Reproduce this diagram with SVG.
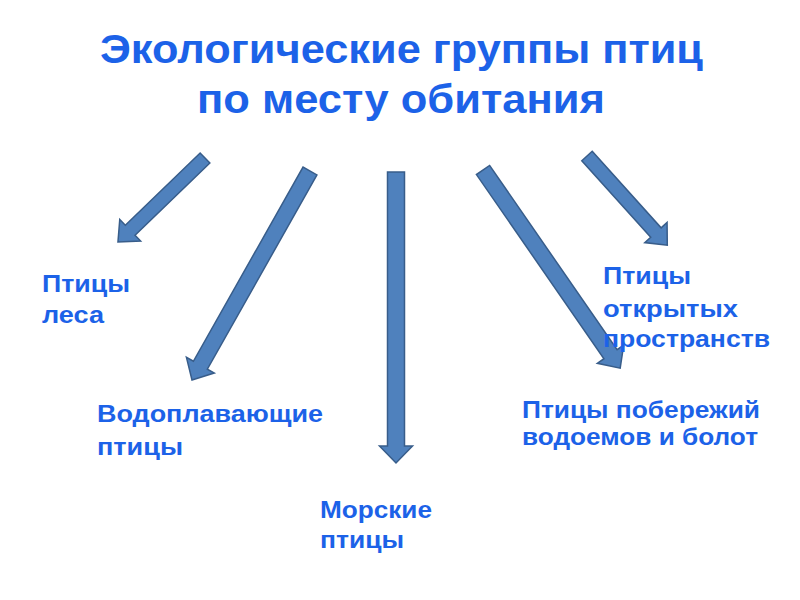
<svg xmlns="http://www.w3.org/2000/svg" width="800" height="600" viewBox="0 0 800 600">
<style>
.t{font-family:"Liberation Sans",Arial,sans-serif;font-weight:bold;fill:#1c62e8}
.title{font-size:40px}
.lbl{font-size:23.5px}
.arr{fill:#4f81bd;stroke:#385d8a;stroke-width:1.5;stroke-linejoin:miter}
</style>
<rect width="800" height="600" fill="#ffffff"/>
<g id="connectors">
<polygon class="arr" transform="translate(205,158) rotate(136)" points="0,-7 104,-7 104,-15 121,0 104,15 104,7 0,7"/>
<polygon class="arr" transform="translate(310,171) rotate(119.45)" points="0,-8 223,-8 223,-16 240,0 223,16 223,8 0,8"/>
<polygon class="arr" transform="translate(396,172) rotate(90)" points="0,-8.5 274,-8.5 274,-16.5 291,0 274,16.5 274,8.5 0,8.5"/>
<polygon class="arr" transform="translate(483,170) rotate(55.3)" points="0,-8 224,-8 224,-16 241,0 224,16 224,8 0,8"/>
<polygon class="arr" transform="translate(587,156) rotate(48)" points="0,-7 103,-7 103,-15 120,0 103,15 103,7 0,7"/>
</g>
<g id="title">
<text class="t title" x="100" y="63" textLength="603" lengthAdjust="spacingAndGlyphs">Экологические группы птиц</text>
<text class="t title" x="197" y="113" textLength="408" lengthAdjust="spacingAndGlyphs">по месту обитания</text>
</g>
<g id="node-forest">
<text class="t lbl" x="42" y="292" textLength="88" lengthAdjust="spacingAndGlyphs">Птицы</text>
<text class="t lbl" x="42" y="323" textLength="62" lengthAdjust="spacingAndGlyphs">леса</text>
</g>
<g id="node-water">
<text class="t lbl" x="97" y="422" textLength="226" lengthAdjust="spacingAndGlyphs">Водоплавающие</text>
<text class="t lbl" x="97" y="455" textLength="86" lengthAdjust="spacingAndGlyphs">птицы</text>
</g>
<g id="node-sea">
<text class="t lbl" x="320" y="518" textLength="112" lengthAdjust="spacingAndGlyphs">Морские</text>
<text class="t lbl" x="320" y="548" textLength="84" lengthAdjust="spacingAndGlyphs">птицы</text>
</g>
<g id="node-shore">
<text class="t lbl" x="522" y="418" textLength="238" lengthAdjust="spacingAndGlyphs">Птицы побережий</text>
<text class="t lbl" x="522" y="445" textLength="236" lengthAdjust="spacingAndGlyphs">водоемов и болот</text>
</g>
<g id="node-open">
<text class="t lbl" x="603" y="284" textLength="88" lengthAdjust="spacingAndGlyphs">Птицы</text>
<text class="t lbl" x="603" y="317" textLength="135" lengthAdjust="spacingAndGlyphs">открытых</text>
<text class="t lbl" x="603" y="347" textLength="167" lengthAdjust="spacingAndGlyphs">пространств</text>
</g>
</svg>
